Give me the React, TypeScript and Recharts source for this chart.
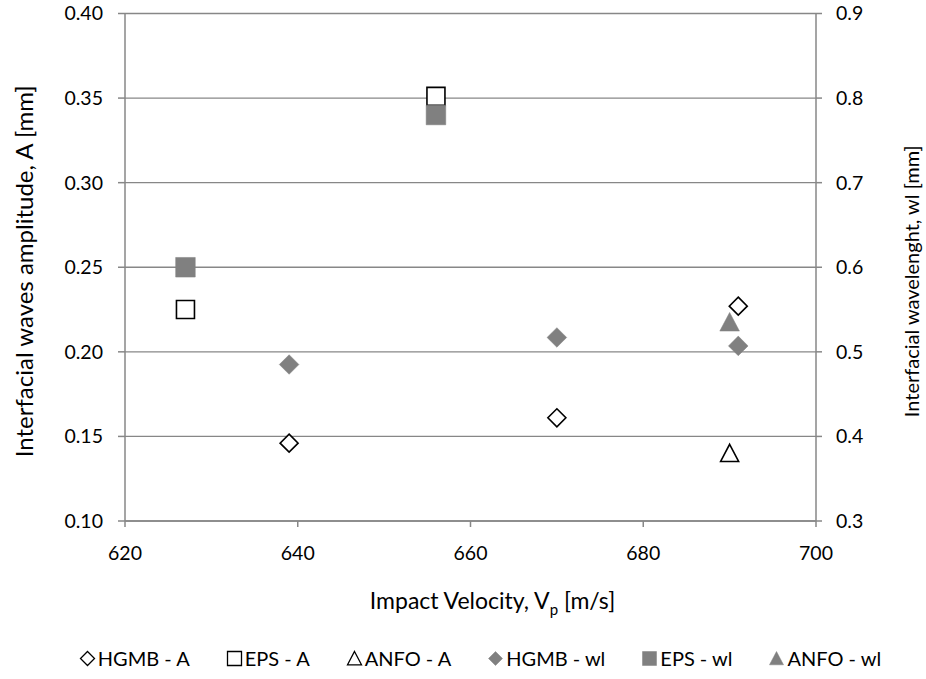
import React from 'react';
import { ScatterChart, Scatter, XAxis, YAxis, CartesianGrid, Legend } from 'recharts';

// ---- data ----
const velocityTicks = [620, 640, 660, 680, 700];
const amplitudeTicks = [0.1, 0.15, 0.2, 0.25, 0.3, 0.35, 0.4];
const wavelengthTicks = [0.3, 0.4, 0.5, 0.6, 0.7, 0.8, 0.9];

const hgmbVelocity = [639, 670, 691];
const hgmbAmplitude = [0.146, 0.161, 0.227];
const hgmbWavelength = [0.485, 0.517, 0.507];

const epsVelocity = [627, 656];
const epsAmplitude = [0.225, 0.351];
const epsWavelength = [0.6, 0.78];

const anfoVelocity = [690];
const anfoAmplitude = [0.14];
const anfoWavelength = [0.535];

const seriesNames = ['HGMB - A', 'EPS - A', 'ANFO - A', 'HGMB - wl', 'EPS - wl', 'ANFO - wl'];

const toPoints = (xs: number[], ys: number[]) => xs.map((x, i) => ({ x, y: ys[i] }));

const FONT = 'Lato, "Liberation Sans", sans-serif';
const GRID = '#878787';
const FILL = '#808080';
const HALF = 9.8;

type Kind = 'diamond' | 'square' | 'triangle';

const pathFor = (kind: Kind, cx: number, cy: number, h: number) => {
  if (kind === 'diamond') return `M${cx},${cy - h}L${cx + h},${cy}L${cx},${cy + h}L${cx - h},${cy}Z`;
  if (kind === 'square') return `M${cx - h},${cy - h}L${cx + h},${cy - h}L${cx + h},${cy + h}L${cx - h},${cy + h}Z`;
  return `M${cx},${cy - h}L${cx + h},${cy + h * 0.9}L${cx - h},${cy + h * 0.9}Z`;
};

const makeShape = (kind: Kind, hollow: boolean) => (props: any) => {
  const { cx, cy } = props;
  if (cx == null || cy == null) return <g />;
  const h = hollow ? HALF - 0.8 : HALF;
  return (
    <path
      d={pathFor(kind, cx, cy, h)}
      fill={hollow ? '#ffffff' : FILL}
      stroke={hollow ? '#000000' : FILL}
      strokeWidth={hollow ? 1.6 : 0.5}
    />
  );
};

const legendKinds: { kind: Kind; hollow: boolean }[] = [
  { kind: 'diamond', hollow: true },
  { kind: 'square', hollow: true },
  { kind: 'triangle', hollow: true },
  { kind: 'diamond', hollow: false },
  { kind: 'square', hollow: false },
  { kind: 'triangle', hollow: false },
];

const LegendContent = () => (
  <div
    style={{
      display: 'flex',
      justifyContent: 'center',
      alignItems: 'center',
      gap: 36,
      paddingLeft: 34,
      fontFamily: FONT,
      fontSize: 20,
      color: '#000',
    }}
  >
    {seriesNames.map((name, i) => {
      const { kind, hollow } = legendKinds[i];
      return (
        <div key={name} style={{ display: 'flex', alignItems: 'center' }}>
          <svg width={17} height={17} style={{ marginRight: 2 }}>
            <path
              d={pathFor(kind, 8.5, 8.5, 7)}
              fill={hollow ? '#fff' : FILL}
              stroke={hollow ? '#000' : FILL}
              strokeWidth={hollow ? 1.3 : 0.5}
            />
          </svg>
          <span style={{ whiteSpace: 'pre' }}>{name}</span>
        </div>
      );
    })}
  </div>
);

const XTitle = (props: any) => {
  const vb = props.viewBox || { x: 0, y: 0, width: 0 };
  return (
    <text
      x={vb.x + vb.width / 2 + 22}
      y={vb.y + 88}
      textAnchor="middle"
      fontFamily={FONT}
      fontSize={23}
      fill="#000"
    >
      Impact Velocity, V
      <tspan fontSize={15} dy={6}>p</tspan>
      <tspan dy={-6}> [m/s]</tspan>
    </text>
  );
};

const LeftTitle = (props: any) => {
  const vb = props.viewBox || { x: 0, y: 0, height: 0 };
  const cx = 23;
  const cy = vb.y + vb.height / 2 + 4;
  return (
    <text
      x={cx}
      y={cy}
      transform={`rotate(-90, ${cx}, ${cy})`}
      textAnchor="middle"
      dominantBaseline="central"
      fontFamily={FONT}
      fontSize={24}
      fill="#000"
    >
      Interfacial waves amplitude, A [mm]
    </text>
  );
};

const RightTitle = (props: any) => {
  const vb = props.viewBox || { x: 0, y: 0, height: 0 };
  const cx = 911;
  const cy = vb.y + vb.height / 2 + 14;
  return (
    <text
      x={cx}
      y={cy}
      transform={`rotate(-90, ${cx}, ${cy})`}
      textAnchor="middle"
      dominantBaseline="central"
      fontFamily={FONT}
      fontSize={20}
      fill="#000"
    >
      Interfacial wavelenght, wl [mm]
    </text>
  );
};

const tickStyle = { fontFamily: FONT, fontSize: 19.5, fill: '#000' };

export default function App() {
  return (
    <div style={{ position: 'absolute', left: 0, top: 0, width: 926, height: 679, background: '#fff' }}>
      <ScatterChart width={926} height={679} margin={{ top: 13.5, right: 0, bottom: 0, left: 0 }}>
        <CartesianGrid yAxisId="left" vertical={false} stroke={GRID} strokeWidth={1.3} />
        <XAxis
          type="number"
          dataKey="x"
          domain={[620, 700]}
          ticks={velocityTicks}
          interval={0}
          height={158}
          tickSize={6}
          tickMargin={19}
          axisLine={{ stroke: GRID, strokeWidth: 1.5 }}
          tickLine={{ stroke: GRID, strokeWidth: 1.5 }}
          tick={tickStyle}
          label={{ content: XTitle }}
        />
        <YAxis
          yAxisId="left"
          type="number"
          dataKey="y"
          orientation="left"
          domain={[0.1, 0.4]}
          ticks={amplitudeTicks}
          interval={0}
          width={125}
          tickSize={7}
          tickMargin={15}
          tickFormatter={(v: number) => v.toFixed(2)}
          axisLine={{ stroke: GRID, strokeWidth: 1.5 }}
          tickLine={{ stroke: GRID, strokeWidth: 1.5 }}
          tick={tickStyle}
          label={{ content: LeftTitle }}
        />
        <YAxis
          yAxisId="right"
          type="number"
          dataKey="y"
          orientation="right"
          domain={[0.3, 0.9]}
          ticks={wavelengthTicks}
          interval={0}
          width={110}
          tickSize={6}
          tickMargin={14}
          tickFormatter={(v: number) => v.toFixed(1)}
          axisLine={{ stroke: GRID, strokeWidth: 1.5 }}
          tickLine={{ stroke: GRID, strokeWidth: 1.5 }}
          tick={tickStyle}
          label={{ content: RightTitle }}
        />
        <Legend
          verticalAlign="middle"
          align="center"
          layout="horizontal"
          content={LegendContent}
          wrapperStyle={{ position: 'absolute', top: 646, left: 0, width: 926, height: 26 }}
        />
        <Scatter name={seriesNames[0]} yAxisId="left" data={toPoints(hgmbVelocity, hgmbAmplitude)} shape={makeShape('diamond', true)} isAnimationActive={false} />
        <Scatter name={seriesNames[1]} yAxisId="left" data={toPoints(epsVelocity, epsAmplitude)} shape={makeShape('square', true)} isAnimationActive={false} />
        <Scatter name={seriesNames[2]} yAxisId="left" data={toPoints(anfoVelocity, anfoAmplitude)} shape={makeShape('triangle', true)} isAnimationActive={false} />
        <Scatter name={seriesNames[3]} yAxisId="right" data={toPoints(hgmbVelocity, hgmbWavelength)} shape={makeShape('diamond', false)} isAnimationActive={false} />
        <Scatter name={seriesNames[4]} yAxisId="right" data={toPoints(epsVelocity, epsWavelength)} shape={makeShape('square', false)} isAnimationActive={false} />
        <Scatter name={seriesNames[5]} yAxisId="right" data={toPoints(anfoVelocity, anfoWavelength)} shape={makeShape('triangle', false)} isAnimationActive={false} />
      </ScatterChart>
    </div>
  );
}
